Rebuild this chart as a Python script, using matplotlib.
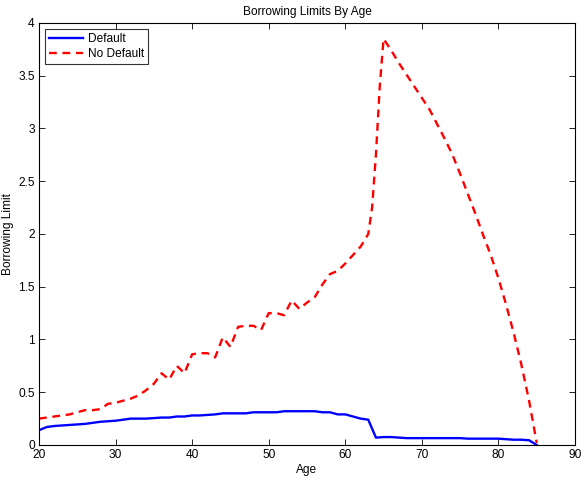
import matplotlib
matplotlib.use("Agg")
import matplotlib.pyplot as plt

plt.rcParams['font.family'] = ['Liberation Sans', 'DejaVu Sans']

ages_default = list(range(20, 86))
limit_default = [0.14, 0.17, 0.18, 0.185, 0.19, 0.195, 0.20, 0.21, 0.22, 0.225,
                 0.23, 0.24, 0.25, 0.25, 0.25, 0.255, 0.26, 0.26, 0.27, 0.27,
                 0.28, 0.28, 0.285, 0.29, 0.30, 0.30, 0.30, 0.30, 0.31, 0.31,
                 0.31, 0.31, 0.32, 0.32, 0.32, 0.32, 0.32, 0.31, 0.31, 0.29,
                 0.29, 0.27, 0.25, 0.24, 0.07, 0.075, 0.075, 0.07, 0.065, 0.065,
                 0.065, 0.065, 0.065, 0.065, 0.065, 0.065, 0.06, 0.06, 0.06, 0.06,
                 0.06, 0.055, 0.05, 0.05, 0.045, 0.0]

ages_nodefault = [20, 21, 22, 23, 24, 25, 26, 27, 28, 29, 30, 31, 32, 33, 34, 35,
                  36, 37, 38, 39, 40, 41, 42, 43, 44, 45, 46, 47, 48, 49, 50, 51,
                  52, 53, 54, 55, 56, 57, 58, 59, 60, 61, 62, 63, 63.5, 64, 64.5,
                  65, 66, 67, 68, 69, 70, 71, 72, 73, 74, 75, 76, 77, 78, 79, 80,
                  81, 82, 83, 84, 85]
limit_nodefault = [0.25, 0.26, 0.27, 0.28, 0.29, 0.31, 0.33, 0.33, 0.34, 0.39,
                   0.40, 0.42, 0.44, 0.47, 0.52, 0.58, 0.68, 0.62, 0.75, 0.68,
                   0.86, 0.87, 0.87, 0.83, 1.02, 0.93, 1.12, 1.13, 1.13, 1.09,
                   1.25, 1.25, 1.23, 1.37, 1.29, 1.35, 1.40, 1.52, 1.62, 1.65,
                   1.72, 1.80, 1.88, 2.00, 2.25, 2.75, 3.40, 3.85, 3.74, 3.62,
                   3.51, 3.40, 3.29, 3.18, 3.04, 2.90, 2.75, 2.57, 2.38, 2.19,
                   1.99, 1.80, 1.58, 1.33, 1.06, 0.76, 0.42, 0.02]

fs = 8.6
fig = plt.figure(figsize=(5.84, 4.84), dpi=100)
ax = fig.add_axes([0.0668, 0.0806, 0.9178, 0.8719])

ax.plot(ages_default, limit_default, color='#0000ff', lw=1.7, label='Default')
ax.plot(ages_nodefault, limit_nodefault, color='#ff0000', lw=1.7, ls=(0, (3.3, 2.4)),
        label='No Default')

ax.set_xlim(20, 90)
ax.set_ylim(0, 4)
ax.set_xticks(range(20, 91, 10))
ax.set_yticks([0, 0.5, 1, 1.5, 2, 2.5, 3, 3.5, 4])
ax.set_yticklabels(['0', '0.5', '1', '1.5', '2', '2.5', '3', '3.5', '4'])
ax.tick_params(direction='in', top=True, right=True, labelsize=fs, length=4, width=0.6,
               pad=3)
for s in ax.spines.values():
    s.set_linewidth(0.8)

ax.set_title('Borrowing Limits By Age', fontsize=fs, pad=6)
ax.set_xlabel('Age', fontsize=fs, labelpad=2)
ax.set_ylabel('Borrowing Limit', fontsize=fs, labelpad=3)

leg = ax.legend(loc='upper left', fontsize=fs, frameon=True, fancybox=False,
                edgecolor='black', borderpad=0.35, handlelength=2.85,
                labelspacing=0.25, borderaxespad=0.5, handletextpad=0.4)
leg.get_frame().set_linewidth(0.8)

fig.savefig('out.png', dpi=100)
